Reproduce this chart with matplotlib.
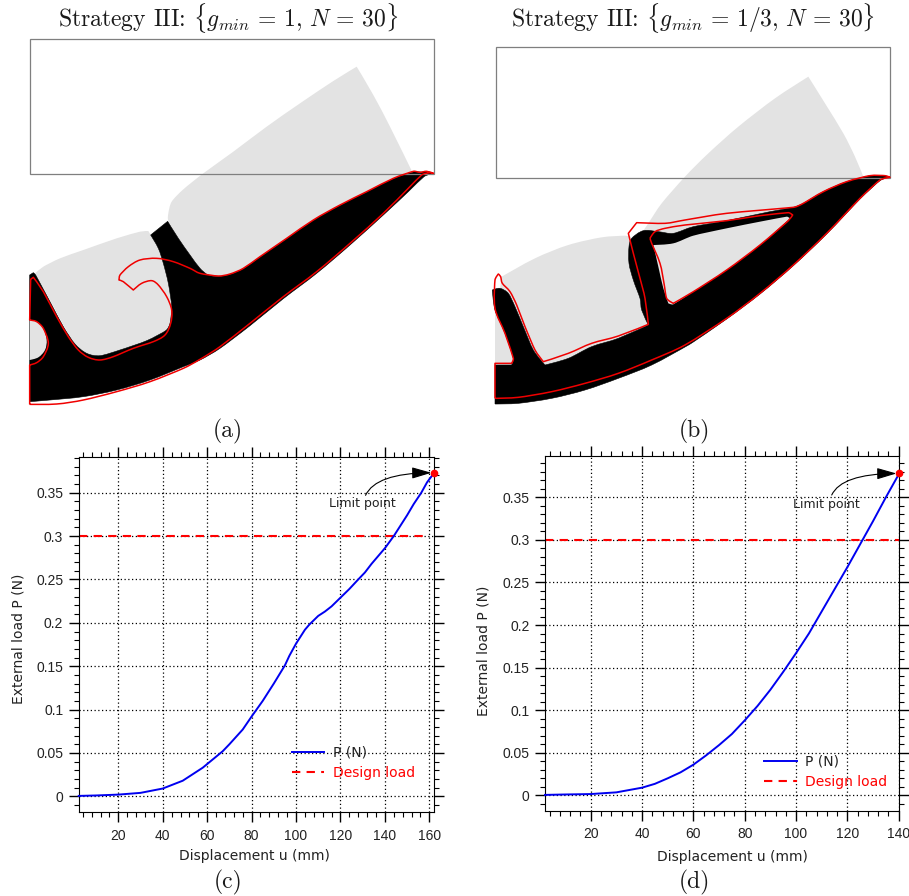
import matplotlib
matplotlib.use("Agg")
import numpy as np
import matplotlib.pyplot as plt
from matplotlib.patches import PathPatch, Rectangle
from matplotlib.path import Path
from matplotlib.ticker import MultipleLocator

plt.rcParams['mathtext.fontset'] = 'cm'
plt.rcParams['axes.unicode_minus'] = False

W, H = 909, 896

# load curves
u_c = [2.2, 10, 20, 30, 40, 49, 58, 67, 70, 76, 80, 85, 90, 95, 97, 100, 102, 104, 106, 108, 110, 113, 116, 120, 124,
       128, 131, 134, 137, 140, 144, 147, 150, 153, 156.4, 159, 162.2]
p_c = [0.0005, 0.001, 0.002, 0.004, 0.009, 0.018, 0.033, 0.052, 0.06, 0.077, 0.092, 0.11, 0.13, 0.151, 0.162, 0.176,
       0.184, 0.192, 0.198, 0.203, 0.208, 0.213, 0.219, 0.229, 0.239, 0.25, 0.258, 0.268, 0.277, 0.286, 0.3, 0.312,
       0.324, 0.337, 0.35, 0.362, 0.373]
u_d = [2.2, 10, 20, 30, 40, 45, 50, 55, 60, 65, 70, 75, 80, 85, 90, 95, 100, 105, 110, 115, 120, 125, 130, 135, 140.2]
p_d = [0.0005, 0.001, 0.0015, 0.0035, 0.009, 0.0135, 0.02, 0.027, 0.036, 0.047, 0.059, 0.072, 0.088, 0.105, 0.124,
       0.145, 0.167, 0.19, 0.216, 0.242, 0.268, 0.295, 0.322, 0.35, 0.378]
design_load = 0.3

x_ticks_c = [20, 40, 60, 80, 100, 120, 140, 160]
x_ticks_d = [20, 40, 60, 80, 100, 120, 140]
y_ticks = [0, 0.05, 0.1, 0.15, 0.2, 0.25, 0.3, 0.35]
y_labels = ['0', '0.05', '0.1', '0.15', '0.2', '0.25', '0.3', '0.35']

# outlines read from the two wing sections, in 3x crop pixels of each upper panel
gray_a1 = [(105, 820), (130, 800), (180, 775), (250, 750), (350, 715), (420, 695), (445, 693), (452, 705), (475, 745),
           (490, 790), (505, 850), (515, 920), (510, 970), (497, 992), (440, 1020), (360, 1050), (300, 1065),
           (260, 1060), (225, 1030), (190, 975), (150, 900)]
gray_a2 = [(89, 960), (110, 965), (130, 985), (140, 1020), (135, 1050), (115, 1072), (89, 1080)]
gray_a3 = [(505, 662), (505, 640), (515, 605), (550, 568), (610, 520), (700, 455), (800, 380), (900, 310), (1000, 243),
           (1070, 200), (1120, 285), (1170, 380), (1235, 512), (1180, 535), (1100, 575), (1020, 615), (940, 660),
           (860, 715), (780, 770), (730, 805), (690, 822), (655, 828), (625, 825), (600, 805), (570, 765), (535, 715)]
black_a = [(89, 1205), (89, 825), (100, 818), (107, 825), (150, 905), (190, 980), (225, 1032), (260, 1060), (300, 1067),
           (360, 1050), (440, 1022), (497, 992), (510, 970), (515, 920), (505, 850), (490, 790), (475, 745), (452, 705),
           (503, 664), (535, 715), (570, 765), (600, 805), (625, 825), (655, 829), (690, 823), (730, 806), (780, 771),
           (860, 716), (940, 661), (1020, 616), (1100, 576), (1180, 536), (1240, 516), (1265, 516), (1285, 515),
           (1300, 520), (1272, 530), (1225, 575), (1150, 645), (1050, 735), (950, 820), (850, 896), (750, 977),
           (660, 1045), (600, 1080), (550, 1100), (450, 1140), (350, 1170), (250, 1190), (150, 1200)]
red_a = [(89, 1213), (170, 1212), (250, 1200), (350, 1175), (450, 1145), (550, 1105), (600, 1078), (660, 1040),
         (750, 970), (850, 890), (950, 815), (1050, 730), (1150, 640), (1220, 570), (1265, 525), (1290, 518),
         (1300, 520), (1280, 514), (1260, 517), (1240, 514), (1180, 535), (1100, 575), (1020, 615), (940, 660),
         (860, 715), (780, 770), (730, 805), (690, 822), (655, 828), (600, 820), (570, 805), (520, 785), (470, 775),
         (420, 780), (385, 800), (360, 825), (357, 840), (370, 845), (400, 870), (425, 850), (455, 842), (475, 855),
         (500, 890), (515, 930), (512, 970), (495, 1005), (460, 1025), (400, 1045), (340, 1070), (300, 1080),
         (265, 1072), (235, 1050), (205, 1010), (170, 950), (130, 875), (100, 832), (92, 838), (89, 960), (110, 965),
         (130, 985), (145, 1030), (130, 1070), (110, 1088), (89, 1095)]

gray_b1 = [(140, 830), (240, 775), (340, 735), (440, 712), (510, 707), (528, 710), (522, 790), (535, 840), (555, 895),
           (560, 930), (580, 975), (490, 1015), (410, 1040), (340, 1075), (270, 1095), (235, 1050), (205, 980),
           (180, 920), (160, 880), (135, 865)]
gray_b2 = [(120, 930), (150, 1000), (175, 1075), (170, 1095), (120, 1095)]
gray_b3 = [(565, 692), (580, 670), (620, 610), (690, 530), (760, 460), (850, 380), (960, 295), (1060, 230), (1110, 310),
           (1165, 400), (1200, 470), (1225, 530), (1175, 545), (1105, 575), (1045, 610), (1015, 622), (945, 635),
           (815, 662), (715, 680), (655, 700), (610, 695)]
black_b = [(120, 1212), (120, 1095), (170, 1095), (175, 1075), (150, 1000), (120, 930), (112, 870), (135, 865),
           (160, 880), (180, 920), (205, 980), (235, 1050), (270, 1095), (340, 1075), (410, 1040), (490, 1015),
           (580, 975), (560, 930), (555, 895), (535, 840), (522, 790), (522, 740), (530, 715), (565, 692), (610, 695),
           (655, 700), (715, 680), (815, 662), (945, 635), (1015, 622), (1045, 610), (1105, 575), (1175, 545),
           (1245, 527), (1290, 527), (1305, 531), (1275, 542), (1215, 597), (1115, 702), (1015, 797), (915, 882),
           (815, 957), (715, 1026), (690, 1041), (590, 1095), (490, 1135), (390, 1170), (290, 1195), (190, 1210)]
hole_b = [(595, 735), (655, 730), (715, 707), (815, 685), (915, 665), (995, 650), (1005, 655), (915, 735), (815, 810),
          (715, 875), (655, 913), (640, 910), (625, 865), (610, 800)]
red_b1 = [(120, 1195), (190, 1192), (290, 1175), (390, 1150), (490, 1120), (590, 1080), (690, 1035), (815, 955),
          (915, 880), (1015, 795), (1115, 700), (1215, 595), (1275, 540), (1305, 532), (1290, 527), (1245, 527),
          (1175, 545), (1105, 575), (1045, 610), (1015, 622), (815, 640), (690, 660), (630, 670), (545, 668),
          (520, 700), (535, 760), (555, 835), (570, 895), (580, 973), (490, 1008), (410, 1030), (340, 1060),
          (265, 1085), (240, 1050), (210, 980), (185, 915), (165, 875), (142, 850), (137, 830), (130, 822), (120, 840),
          (120, 925), (150, 1000), (175, 1075), (170, 1090), (120, 1090)]
red_b2 = [(585, 715), (600, 695), (630, 685), (690, 675), (815, 662), (915, 647), (1000, 638), (1013, 645), (1000, 662),
          (915, 735), (815, 810), (715, 875), (655, 910), (635, 895), (627, 850), (615, 790), (590, 730)]

GRAY = '#e3e3e3'
fig = plt.figure(figsize=(W / 100, H / 100), dpi=100)


def px_axes(x0, y0, x1, y1):
    return fig.add_axes([x0 / W, 1 - y1 / H, (x1 - x0) / W, (y1 - y0) / H])


# closed bezier outline through the read points, sharp turns stay sharp
def smooth_outline(pts, corner=50):
    p = np.array(pts, dtype=float)
    n = len(p)
    handles = np.zeros((n, 2))
    for i in range(n):
        a = p[i] - p[i - 1]
        b = p[(i + 1) % n] - p[i]
        la, lb = np.hypot(*a), np.hypot(*b)
        turn = np.degrees(np.arccos(np.clip(a @ b / (la * lb), -1, 1)))
        if turn < corner:
            d = p[(i + 1) % n] - p[i - 1]
            handles[i] = d / np.hypot(*d) * min(la, lb) / 3
    verts = [p[0]]
    codes = [Path.MOVETO]
    for i in range(n):
        j = (i + 1) % n
        verts += [p[i] + handles[i], p[j] - handles[j], p[j]]
        codes += [Path.CURVE4] * 3
    return Path(verts, codes)


def section(x0, width, rect, grays_under, black, grays_over, reds):
    ax = px_axes(x0, 0, x0 + width, 440)
    ax.set_xlim(0, width * 3)
    ax.set_ylim(1320, 0)
    ax.axis('off')
    for g in grays_under:
        ax.add_patch(PathPatch(smooth_outline(g), fc=GRAY, ec='none', zorder=1))
    ax.add_patch(PathPatch(smooth_outline(black), fc='black', ec='black', lw=0.4, zorder=2))
    for g in grays_over:
        ax.add_patch(PathPatch(smooth_outline(g), fc=GRAY, ec='none', zorder=3))
    ax.add_patch(Rectangle((rect[0], rect[1]), rect[2] - rect[0], rect[3] - rect[1], fill=False, ec='#7f7f7f', lw=0.9,
                           zorder=4))
    for r in reds:
        ax.add_patch(PathPatch(smooth_outline(r), fill=False, ec='#f00000', lw=1.1, joinstyle='round', zorder=5))


section(0, 455, (89, 118, 1301, 522), [gray_a1, gray_a3], black_a, [gray_a2], [red_a])
section(455, 454, (122, 140, 1306, 533), [gray_b1, gray_b2, gray_b3], black_b, [hole_b], [red_b1, red_b2])


def load_plot(box, xlim, ylim, u, p, x_ticks, limit_from, label_at, leg_at, ylabel_at, xlabel_x, labelpad, design_end):
    ax = px_axes(*box)
    ax.set_xlim(*xlim)
    ax.set_ylim(*ylim)
    ax.set_xticks(x_ticks)
    ax.set_yticks(y_ticks)
    ax.set_yticklabels(y_labels)
    ax.xaxis.set_minor_locator(MultipleLocator(4))
    ax.yaxis.set_minor_locator(MultipleLocator(0.01))
    ax.tick_params(which='major', length=7.2, width=1, direction='out', top=True, right=True, labelsize=10,
                   labelcolor='#222222')
    ax.tick_params(axis='x', which='major', pad=4.5)
    ax.tick_params(axis='y', which='major', pad=4)
    ax.tick_params(which='minor', length=3.6, width=0.8, direction='out', top=True, right=True)
    for t in ax.get_xticklabels() + ax.get_yticklabels():
        t.set_family('Liberation Sans')
    ax.grid(True, which='major', color='black', lw=0.9, ls=(0, (1, 2)))
    ax.set_axisbelow(True)

    ax.plot(u, p, color='#0000f0', lw=1.4, label='P (N)', clip_on=False, zorder=3)
    ax.plot([xlim[0], design_end], [design_load, design_load], color='#ff0000', lw=1.5, ls=(0, (4, 3)),
            label='Design load', zorder=2)
    ax.plot(u[-1], p[-1], 'o', color='#ff0000', ms=4.5, clip_on=False, zorder=5)

    ax.annotate('', xy=(u[-1], p[-1]), xytext=limit_from, zorder=4,
                arrowprops=dict(arrowstyle='-|>,head_length=1.2,head_width=0.35', color='black', lw=0.8, shrinkA=0,
                                shrinkB=2, connectionstyle='angle3,angleA=65,angleB=0'))
    ax.text(label_at[0], label_at[1], 'Limit point', fontsize=9, ha='center', va='center', color='#222222')

    ax.set_xlabel('Displacement u (mm)', fontsize=10, color='#222222', labelpad=labelpad)
    ax.xaxis.label.set_x(xlabel_x)
    ax.set_ylabel('External load P (N)', fontsize=10, color='#222222')
    ax.yaxis.set_label_coords(*ylabel_at)

    ax.legend(loc='center left', bbox_to_anchor=leg_at, frameon=False, fontsize=10, handlelength=2.35,
              handletextpad=0.6, labelspacing=0.45, borderpad=0, borderaxespad=0, labelcolor=['#222222', '#ff0000'])
    return ax


load_plot((78.7, 456.7, 434.3, 812.3), (2.17, 162.25), (-0.0184, 0.3915), u_c, p_c, x_ticks_c,
          (131.3, 0.347), (130, 0.3375), (0.599, 0.14), (-0.151, 0.487), 0.493, 5, 160)
load_plot((545, 456, 899.3, 811), (2.19, 140.23), (-0.0184, 0.3985), u_d, p_d, x_ticks_d,
          (113.9, 0.3527), (111.9, 0.3415), (0.619, 0.11), (-0.155, 0.45), 0.528, 6, 140.2)

# titles and sub-figure captions
title_kw = dict(family='cmr10', fontsize=17, ha='center', va='center', color='#1a1a1a')
fig.text(228 / W, 1 - 18 / H, r'Strategy III: $\{g_{min}\,=\,1,\,N\,=\,30\}$', **title_kw)
fig.text(693 / W, 1 - 18 / H, r'Strategy III: $\{g_{min}\,=\,1/3,\,N\,=\,30\}$', **title_kw)
fig.text(228 / W, 1 - 431 / H, '(a)', **title_kw)
fig.text(694 / W, 1 - 431 / H, '(b)', **title_kw)
fig.text(228 / W, 1 - 882 / H, '(c)', **title_kw)
fig.text(694 / W, 1 - 882 / H, '(d)', **title_kw)

fig.savefig('out.png', dpi=100)
